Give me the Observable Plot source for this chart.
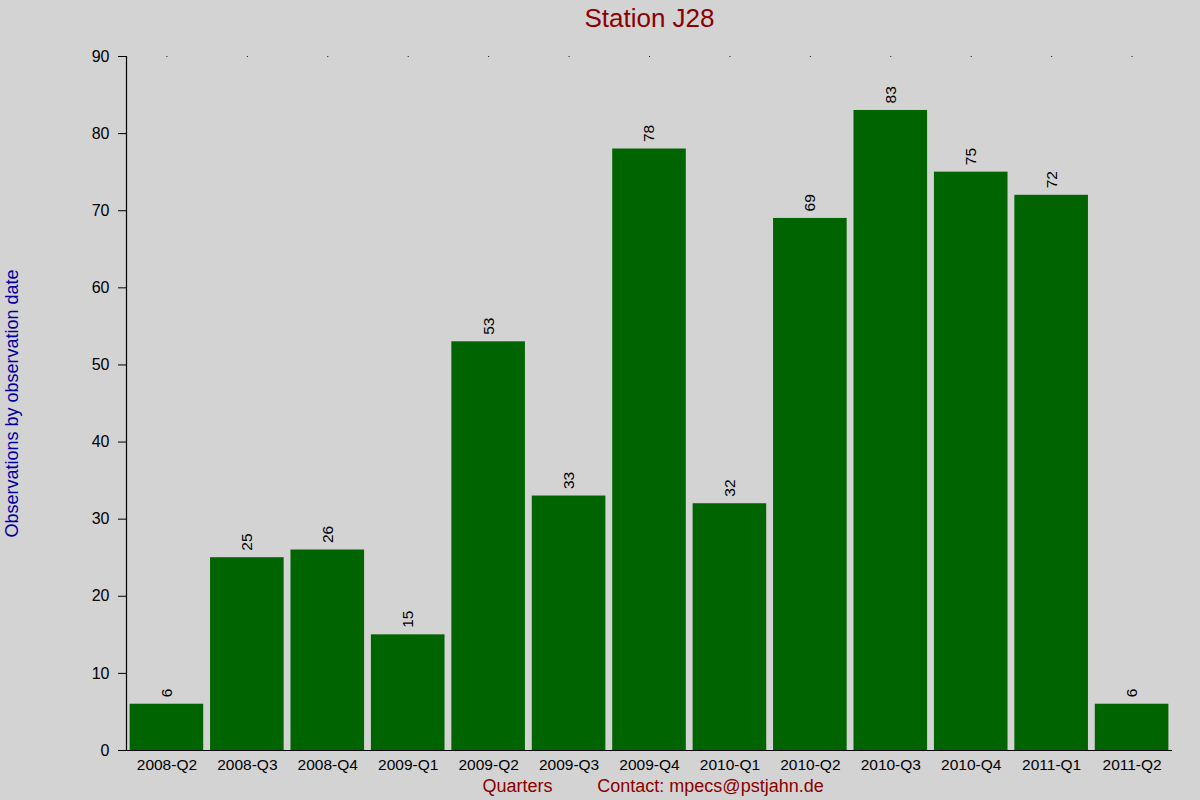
<!DOCTYPE html>
<html>
<head>
<meta charset="utf-8">
<script src="https://cdn.jsdelivr.net/npm/d3@7"></script>
<script src="https://cdn.jsdelivr.net/npm/@observablehq/plot@0.6"></script>
<style>
  html, body { margin: 0; padding: 0; background: #d3d3d3; }
  #chart { width: 1200px; height: 800px; }
</style>
</head>
<body>
<div id="chart"></div>
<script>
const quarters = ["2008-Q2","2008-Q3","2008-Q4","2009-Q1","2009-Q2","2009-Q3","2009-Q4","2010-Q1","2010-Q2","2010-Q3","2010-Q4","2011-Q1","2011-Q2"];
const counts = [6, 25, 26, 15, 53, 33, 78, 32, 69, 83, 75, 72, 6];
const yTicks = [0, 10, 20, 30, 40, 50, 60, 70, 80, 90];
const titleText = "Station J28";
const yLabel = "Observations by observation date";
const xLabel = "Quarters";
const contactText = "Contact: mpecs@pstjahn.de";

const data = quarters.map((q, i) => ({quarter: q, count: counts[i]}));
const font = "Arial, 'Liberation Sans', sans-serif";

const chart = Plot.plot({
  width: 1200,
  height: 800,
  marginLeft: 126,
  marginRight: 28,
  marginTop: 56,
  marginBottom: 50,
  style: {background: "#d3d3d3", fontFamily: font, fontSize: "15px", color: "#000"},
  x: {domain: quarters, paddingInner: 0.085, paddingOuter: 0.045, round: false, label: null},
  y: {domain: [0, 90], label: null},
  marks: [
    Plot.barY(data, {x: "quarter", y: "count", fill: "#006400"}),
    Plot.text(data, {x: "quarter", y: "count", text: d => String(d.count), rotate: -90, textAnchor: "start", dy: -7, fontSize: 15.5, fill: "#000"}),
    Plot.dot(quarters, {x: d => d, y: 90, r: 0.6, fill: "#000", stroke: null}),
    Plot.axisY({ticks: yTicks, tickSize: 8, tickPadding: 9, fontSize: 16, label: null, stroke: "#000"}),
    Plot.axisX({tickSize: 0, tickPadding: 8, fontSize: 15.5, label: null}),
    Plot.ruleY([0], {stroke: "#000", strokeWidth: 1.2}),
    Plot.frame({anchor: "left", stroke: "#000", strokeWidth: 1.2}),
    Plot.text([titleText], {frameAnchor: "top", textAnchor: "middle", lineAnchor: "middle", dy: -38, fontSize: 26, fill: "#8b0000", text: d => d}),
    Plot.text([yLabel], {frameAnchor: "left", textAnchor: "middle", lineAnchor: "middle", dx: -114, rotate: -90, fontSize: 18, fill: "#0000a0", text: d => d}),
    Plot.text([xLabel], {frameAnchor: "bottom-left", textAnchor: "middle", lineAnchor: "middle", dx: 391, dy: 36, fontSize: 18, fill: "#8b0000", text: d => d}),
    Plot.text([contactText], {frameAnchor: "bottom-left", textAnchor: "middle", lineAnchor: "middle", dx: 584, dy: 36, fontSize: 18, fill: "#8b0000", text: d => d})
  ]
});
document.getElementById("chart").appendChild(chart);
</script>
</body>
</html>
